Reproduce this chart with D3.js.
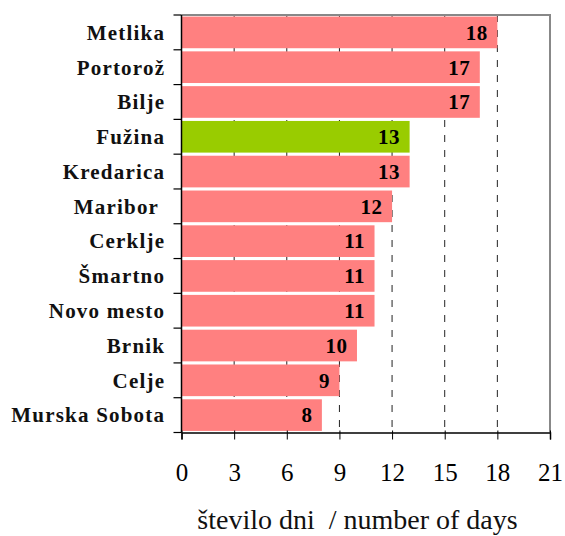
<!DOCTYPE html>
<html lang="sl">
<head>
    <meta charset="UTF-8">
    <title>Število dni</title>
    <script src="https://cdn.jsdelivr.net/npm/d3@7/dist/d3.min.js"></script>
    <style>
        body { margin: 0; background: #fff; }
        svg text { font-family: "Liberation Serif", "Times New Roman", serif; white-space: pre; }
    </style>
</head>
<body>
<div id="chart"></div>
<script>
// station names, top to bottom
const stations = ["Metlika", "Portorož", "Bilje", "Fužina", "Kredarica", "Maribor ",
    "Cerklje", "Šmartno", "Novo mesto", "Brnik", "Celje", "Murska Sobota"];
const days = [18, 17, 17, 13, 13, 12, 11, 11, 11, 10, 9, 8];
const highlighted = ["Fužina"];
const xTicks = [0, 3, 6, 9, 12, 15, 18, 21];
const xTitle = "število dni  / number of days";

const width = 565, height = 536;
const margin = { top: 15, right: 15, bottom: 103.5, left: 181.5 };

const svg = d3.select("#chart").append("svg")
    .attr("width", width)
    .attr("height", height);

const xScale = d3.scaleLinear()
    .domain([0, 21])
    .range([margin.left, width - margin.right]);

const yScale = d3.scaleBand()
    .domain(stations)
    .range([margin.top, height - margin.bottom])
    .paddingInner(0.09)
    .paddingOuter(0.045);

const plotTop = margin.top, plotBottom = height - margin.bottom;

// dashed gridlines behind the bars
svg.append("g")
    .selectAll("line")
    .data(xTicks.slice(1, -1))
    .join("line")
    .attr("x1", d => xScale(d))
    .attr("x2", d => xScale(d))
    .attr("y1", plotTop)
    .attr("y2", plotBottom)
    .attr("stroke", "#222")
    .attr("stroke-width", 1)
    .attr("stroke-dasharray", "7,8");

// top and right frame (grey)
svg.append("path")
    .attr("d", `M${xScale(0)},${plotTop}H${xScale(21)}V${plotBottom}`)
    .attr("fill", "none")
    .attr("stroke", "#888")
    .attr("stroke-width", 2);

// bars
svg.append("g")
    .selectAll("rect")
    .data(stations)
    .join("rect")
    .attr("x", xScale(0))
    .attr("y", d => yScale(d))
    .attr("width", (d, i) => xScale(days[i]) - xScale(0))
    .attr("height", yScale.bandwidth())
    .attr("fill", d => highlighted.includes(d) ? "#99CC00" : "#FF8080");

// value labels inside the bar ends
svg.append("g")
    .selectAll("text")
    .data(stations)
    .join("text")
    .attr("x", (d, i) => xScale(days[i]) - 9.5)
    .attr("y", d => yScale(d) + yScale.bandwidth() / 2)
    .attr("dy", "0.35em")
    .attr("text-anchor", "end")
    .style("font-size", "21px")
    .style("font-weight", "bold")
    .style("letter-spacing", "0.5px")
    .text((d, i) => days[i]);

// x axis
const xAxis = svg.append("g")
    .attr("transform", `translate(0, ${plotBottom})`)
    .call(d3.axisBottom(xScale).tickValues(xTicks).tickSize(7).tickPadding(24));
xAxis.select(".domain").attr("stroke", "#000").attr("stroke-width", 1.5);
xAxis.selectAll(".tick line").attr("stroke", "#000").attr("y1", -2);
xAxis.selectAll(".tick text")
    .attr("fill", "#000")
    .style("font-size", "25px");

// y axis: line plus ticks on band boundaries
svg.append("line")
    .attr("x1", xScale(0)).attr("x2", xScale(0))
    .attr("y1", plotTop).attr("y2", plotBottom)
    .attr("stroke", "#000")
    .attr("stroke-width", 1.5);

const boundaries = d3.range(stations.length + 1);
const rowH = (plotBottom - plotTop) / stations.length;
svg.append("g")
    .selectAll("line")
    .data(boundaries)
    .join("line")
    .attr("x1", xScale(0) - 8)
    .attr("x2", xScale(0))
    .attr("y1", i => plotTop + i * rowH)
    .attr("y2", i => plotTop + i * rowH)
    .attr("stroke", "#000")
    .attr("stroke-width", 1.2);

// category labels
svg.append("g")
    .selectAll("text")
    .data(stations)
    .join("text")
    .attr("x", 165.2)
    .attr("y", d => yScale(d) + yScale.bandwidth() / 2)
    .attr("dy", "0.35em")
    .attr("text-anchor", "end")
    .style("font-size", "21px")
    .style("font-weight", "bold")
    .style("letter-spacing", "1.2px")
    .attr("fill", "#111")
    .text(d => d);

// axis title
svg.append("text")
    .attr("x", 357.5)
    .attr("y", 529)
    .attr("text-anchor", "middle")
    .style("font-size", "28px")
    .attr("fill", "#111")
    .text(xTitle);
</script>
</body>
</html>
